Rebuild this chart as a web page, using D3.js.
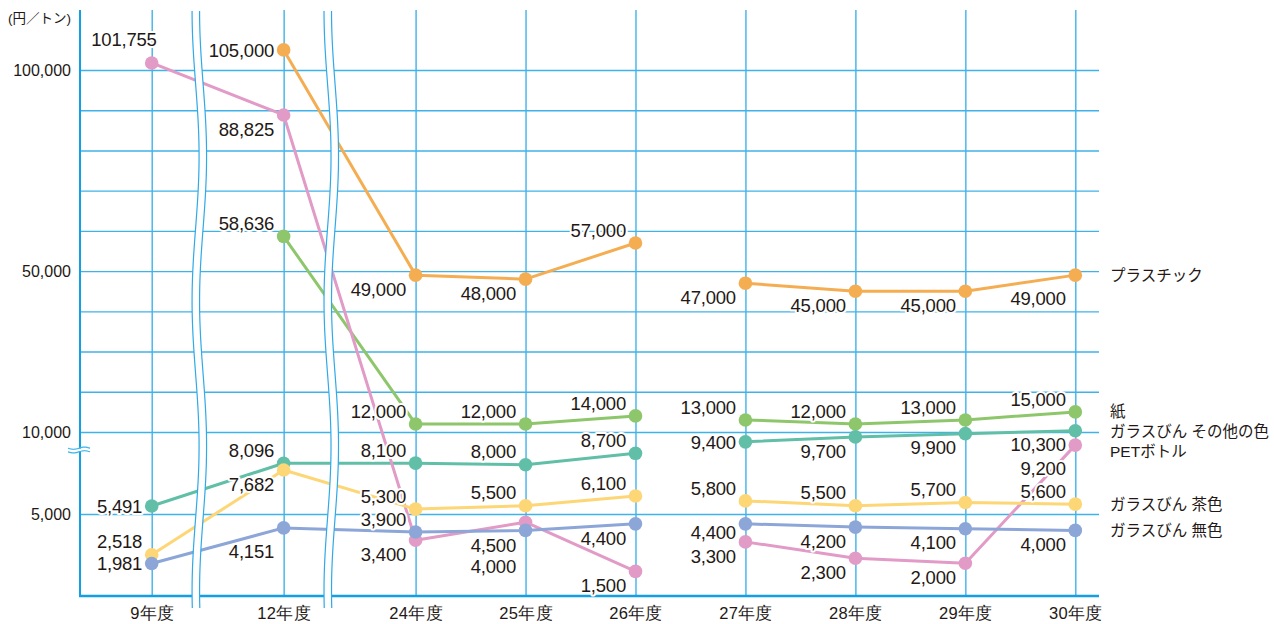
<!DOCTYPE html>
<html>
<head>
<meta charset="utf-8">
<script src="https://cdn.jsdelivr.net/npm/d3@7/dist/d3.min.js"></script>
<style>
  body { margin: 0; background: #fff; }
  svg { display: block; font-family: "Liberation Sans", Arial, "Noto Sans CJK JP", sans-serif; }
</style>
</head>
<body>
<svg id="chart" width="1274" height="624"></svg>
<script>
// ---- data -------------------------------------------------------------
const categories = ['9年度', '12年度', '24年度', '25年度', '26年度', '27年度', '28年度', '29年度', '30年度'];
const axisBreaksAfter = [0, 1];   // wavy breaks in the time axis after these categories
const lineGapAfter = 4;           // series are not joined between 26年度 and 27年度

const plastic    = [null, 105000, 49000, 48000, 57000, 47000, 45000, 45000, 49000];
const paper      = [null, 58636, 12000, 12000, 14000, 13000, 12000, 13000, 15000];
const glassOther = [5491, 8096, 8100, 8000, 8700, 9400, 9700, 9900, 10300];
const pet        = [101755, 88825, 3400, 4500, 1500, 3300, 2300, 2000, 9200];
const glassBrown = [2518, 7682, 5300, 5500, 6100, 5800, 5500, 5700, 5600];
const glassClear = [1981, 4151, 3900, 4000, 4400, 4400, 4200, 4100, 4000];

const seriesNames = ['プラスチック', '紙', 'ガラスびん その他の色', 'PETボトル', 'ガラスびん 茶色', 'ガラスびん 無色'];

const yGridValues  = [5000, 10000, 20000, 30000, 40000, 50000, 60000, 70000, 80000, 90000, 100000];
const yLabelValues = [5000, 10000, 50000, 100000];
const unitLabel = '(円／トン)';

// value-label placement codes
// a = above, s = slightly below, b = below, bb/bbb = further below, m = beside, t = on top
const plasticPos    = [null, 'm', 'b', 'b', 'a', 'b', 'b', 'b', 'bb'];
const paperPos      = [null, 'a', 'a', 'a', 'a', 'a', 'a', 'a', 'a'];
const glassOtherPos = ['m', 'a', 'a', 'a', 'a', 'm', 'b', 'b', 'b'];
const petPos        = ['t', 'b', 'b', 'bb', 'b', 'b', 'b', 'b', 'bb'];
const glassBrownPos = ['a', 'b', 'a', 'a', 'a', 'a', 'a', 'a', 'a'];
const glassClearPos = ['m', 'bb', 'a', 'bbb', 'b', 's', 'b', 'b', 'b'];

// ---- styling ----------------------------------------------------------
const colors = ['#F5AD52', '#8EC66B', '#61BFA7', '#E29BC6', '#FDD676', '#8DA6D8'];
const series = [
  { name: seriesNames[0], values: plastic,    pos: plasticPos,    color: colors[0] },
  { name: seriesNames[1], values: paper,      pos: paperPos,      color: colors[1] },
  { name: seriesNames[2], values: glassOther, pos: glassOtherPos, color: colors[2] },
  { name: seriesNames[3], values: pet,        pos: petPos,        color: colors[3] },
  { name: seriesNames[4], values: glassBrown, pos: glassBrownPos, color: colors[4] },
  { name: seriesNames[5], values: glassClear, pos: glassClearPos, color: colors[5] }
];
const labelOffset = { a: -13, s: 8, b: 14, bb: 23, bbb: 36, m: 0, t: -24 };

const gridColor = '#3FB2E9';
const axisColor = '#12A0E4';
const textColor = '#231815';

const plot = { left: 80, right: 1099, top: 10, bottom: 596 };

const svg = d3.select('#chart');

// category slot positions: each axis break widens the gap by 0.2 of a step
const slot = i => i + 0.2 * axisBreaksAfter.filter(b => b < i).length;
const x = d3.scaleLinear().domain([0, slot(categories.length - 1)]).range([151.7, 1075.3]);
const xi = i => x(slot(i));

// piecewise y scale: 0–10,000 is stretched, 10,000–100,000 compressed
const y = d3.scaleLinear().domain([0, 10000, 100000]).range([plot.bottom, 432, 70]);

// ---- grid and axes ----------------------------------------------------
const fmt = d3.format(',');

const yAxis = d3.axisLeft(y)
  .tickValues(yGridValues)
  .tickSize(-(plot.right - plot.left))
  .tickPadding(9)
  .tickFormat(d => yLabelValues.includes(d) ? fmt(d) : '');
const gy = svg.append('g').attr('transform', `translate(${plot.left},0)`).call(yAxis);
gy.select('.domain').remove();
gy.selectAll('.tick line').attr('stroke', gridColor).attr('stroke-width', 1.4);
gy.selectAll('.tick text')
  .attr('fill', textColor).attr('font-size', 16).attr('font-family', null);

const xAxis = d3.axisBottom(d3.scaleLinear().domain(x.domain()).range(x.range()))
  .tickValues(categories.map((c, i) => slot(i)))
  .tickSize(-(plot.bottom - plot.top))
  .tickFormat((d, i) => categories[i]);
const gx = svg.append('g').attr('transform', `translate(0,${plot.bottom})`).call(xAxis);
gx.select('.domain').remove();
gx.selectAll('.tick line').attr('stroke', gridColor).attr('stroke-width', 1.4);
gx.selectAll('.tick text')
  .attr('y', 17).attr('dy', '0.35em')
  .attr('fill', textColor).attr('font-size', 16.5).attr('letter-spacing', 0.3)
  .attr('font-family', null);

// left axis (interrupted by the break mark) and bottom axis
const breakY = y(10000) + 18;
svg.append('line')
  .attr('x1', plot.left).attr('x2', plot.left)
  .attr('y1', plot.top).attr('y2', plot.bottom)
  .attr('stroke', axisColor).attr('stroke-width', 2);
svg.append('line')
  .attr('x1', plot.left - 1).attr('x2', plot.right)
  .attr('y1', plot.bottom).attr('y2', plot.bottom)
  .attr('stroke', axisColor).attr('stroke-width', 2.6);

svg.append('rect')
  .attr('x', plot.left - 12).attr('y', breakY - 1.5)
  .attr('width', 24).attr('height', 3.5).attr('fill', '#fff');
const squiggle = (y0) => {
  const pts = d3.range(0, 23).map(k => [plot.left - 12 + k, y0 + 1.1 * Math.sin(k / 22 * 2 * Math.PI)]);
  return d3.line().curve(d3.curveBasis)(pts);
};
[breakY - 1.8, breakY + 1.8].forEach(yy => {
  svg.append('path').attr('d', squiggle(yy))
    .attr('fill', 'none').attr('stroke', '#3DB5EA').attr('stroke-width', 1.2);
});

// unit
svg.append('text')
  .attr('x', 8).attr('y', 18).attr('dy', '0.35em')
  .attr('font-size', 13.5).attr('fill', textColor)
  .text(unitLabel);

// ---- series lines -----------------------------------------------------
const lineGen = d3.line()
  .defined(d => d.v != null)
  .x(d => xi(d.i))
  .y(d => y(d.v));

const gLines = svg.append('g');
series.forEach(s => {
  const pts = s.values.map((v, i) => ({ v, i }));
  const segments = [pts.slice(0, lineGapAfter + 1), pts.slice(lineGapAfter + 1)];
  segments.forEach(seg => {
    gLines.append('path')
      .attr('d', lineGen(seg))
      .attr('fill', 'none')
      .attr('stroke', s.color)
      .attr('stroke-width', 3)
      .attr('stroke-linejoin', 'round');
  });
});

// ---- wavy axis-break bands --------------------------------------------
const bandTop = plot.top + 1, bandBottom = 610, bandWidth = 7.5;
axisBreaksAfter.forEach(b => {
  const x0 = xi(b), x1 = xi(b + 1);
  const base = x0 + 0.306 * (x1 - x0);
  const ys = d3.range(bandTop, bandBottom + 1, 3);
  const edge = yy => base + 3.5 * (1 - Math.cos(2 * Math.PI * (yy - bandTop) / 290));
  const leftPts = ys.map(yy => [edge(yy), yy]);
  const rightPts = ys.map(yy => [edge(yy) + bandWidth, yy]);
  const area = d3.area().x0(d => edge(d)).x1(d => edge(d) + bandWidth).y(d => d);
  svg.append('path').attr('d', area(ys)).attr('fill', '#fff');
  [leftPts, rightPts].forEach(p => {
    svg.append('path').attr('d', d3.line()(p))
      .attr('fill', 'none').attr('stroke', '#2FA9E7').attr('stroke-width', 1.2);
  });
});

// ---- points -----------------------------------------------------------
const gPts = svg.append('g');
series.forEach(s => {
  s.values.forEach((v, i) => {
    if (v == null) return;
    gPts.append('circle')
      .attr('cx', xi(i)).attr('cy', y(v)).attr('r', 6.8)
      .attr('fill', s.color);
  });
});

// ---- value labels -----------------------------------------------------
const gLab = svg.append('g');
series.forEach(s => {
  s.values.forEach((v, i) => {
    if (v == null) return;
    const code = s.pos[i];
    const lx = code === 't' ? xi(i) + 5 : xi(i) - 9.5;
    gLab.append('text')
      .attr('x', lx)
      .attr('y', y(v) + labelOffset[code])
      .attr('dy', '0.36em')
      .attr('text-anchor', 'end')
      .attr('font-size', 18.5)
      .attr('letter-spacing', -0.2)
      .attr('fill', textColor)
      .attr('stroke', '#fff').attr('stroke-width', 4)
      .attr('stroke-linejoin', 'round')
      .attr('paint-order', 'stroke')
      .text(fmt(v));
  });
});

// ---- series names at the right, spread so they do not collide -----------
const last = series.map(s => ({ name: s.name, y: y(s.values[s.values.length - 1]) }))
  .sort((a, b) => a.y - b.y);
for (let k = 1; k < last.length; k++) {
  if (last[k].y - last[k - 1].y < 20) last[k].y = last[k - 1].y + 20;
}
svg.append('g').selectAll('text').data(last).join('text')
  .attr('x', 1110)
  .attr('y', d => d.y)
  .attr('dy', '0.36em')
  .attr('font-size', 15.5)
  .attr('fill', textColor)
  .text(d => d.name);
</script>
</body>
</html>
